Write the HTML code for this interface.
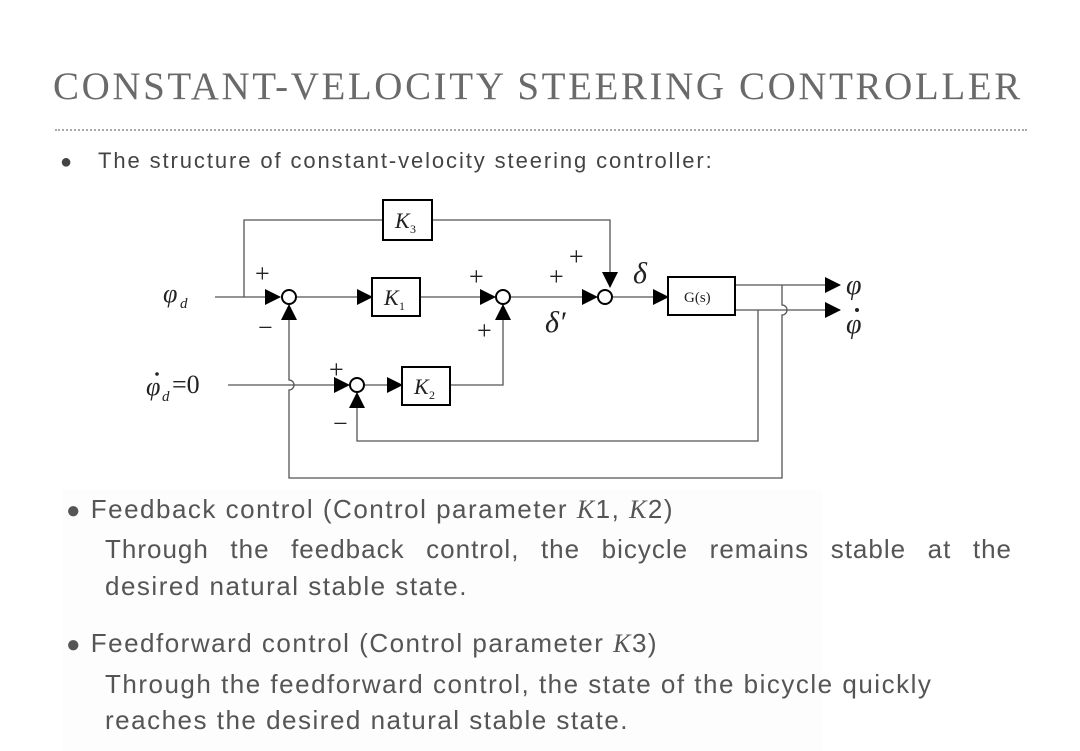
<!DOCTYPE html>
<html><head><meta charset="utf-8"><style>
body{margin:0;width:1080px;height:751px;background:#fff;overflow:hidden;position:relative;font-family:"Liberation Sans",sans-serif}
.t{position:absolute;white-space:nowrap}
</style></head><body>
<div style="position:absolute;left:62px;top:490px;width:760px;height:261px;background:#fdfdfd"></div>
<div class="t" style="left:53px;top:64px;font-family:'Liberation Serif',serif;font-size:39px;color:#6a6a6a;letter-spacing:2.6px">CONSTANT-VELOCITY STEERING CONTROLLER</div>
<div style="position:absolute;left:55px;top:129px;width:972px;border-top:2px dotted #aaa"></div>
<div class="t" style="left:60px;top:148px;font-size:22px;color:#444;letter-spacing:1.9px"><span style="font-size:20px">●</span>&nbsp;&nbsp;&nbsp;The structure of constant-velocity steering controller:</div>
<svg style="position:absolute;left:0;top:0" width="1080" height="751">
<defs><marker id="b" markerWidth="16" markerHeight="16" refX="15" refY="8" orient="auto" markerUnits="userSpaceOnUse"><path d="M0,0 L16,8 L0,16z" fill="#000"/></marker></defs>
<g stroke="#555" stroke-width="1.3" fill="none">
<path d="M215,297 H280" marker-end="url(#b)"/>
<path d="M244,297 V220 H383"/><path d="M432,220 H610 V287" marker-end="url(#b)"/>
<path d="M297,297 H372" marker-end="url(#b)"/>
<path d="M420,297 H495" marker-end="url(#b)"/>
<path d="M511,297 H597" marker-end="url(#b)"/>
<path d="M613,297 H668" marker-end="url(#b)"/>
<path d="M735,285 H840" marker-end="url(#b)"/>
<path d="M735,310 H840" marker-end="url(#b)"/>
<path d="M782,285 V305 a5,5 0 0 1 0,10 V478 H289 V390 a5,5 0 0 0 0,-10 V305" marker-end="url(#b)"/>
<path d="M758,310 V441 H357 V393" marker-end="url(#b)"/>
<path d="M228,385 H349" marker-end="url(#b)"/>
<path d="M365,385 H402" marker-end="url(#b)"/>
<path d="M450,385 H503 V305" marker-end="url(#b)"/>
</g>
<g stroke="#000" stroke-width="2" fill="#fff">
<circle cx="289" cy="297" r="7"/><circle cx="503" cy="297" r="7"/><circle cx="605" cy="297" r="7"/><circle cx="357" cy="385" r="7"/>
<rect x="383" y="200" width="49" height="40"/><rect x="372" y="278" width="48" height="38"/><rect x="402" y="367" width="48" height="38"/><rect x="668" y="277" width="67" height="38"/>
</g>
<g font-family="Liberation Serif,serif" fill="#222">
<text x="395" y="228" font-size="22" font-style="italic">K</text><text x="410" y="233" font-size="12">3</text>
<text x="384" y="305" font-size="22" font-style="italic">K</text><text x="399" y="310" font-size="12">1</text>
<text x="414" y="394" font-size="22" font-style="italic">K</text><text x="429" y="399" font-size="12">2</text>
<text x="684" y="302" font-size="15">G(s)</text>
<g font-size="26"><text x="255" y="282">+</text><text x="258" y="336">−</text><text x="469" y="285">+</text><text x="477" y="339">+</text><text x="549" y="285">+</text><text x="569" y="265">+</text><text x="329" y="378">+</text><text x="333" y="432">−</text></g>
<text x="163" y="302" font-size="26" font-style="italic">φ</text><text x="180" y="308" font-size="15" font-style="italic">d</text>
<text x="146" y="395" font-size="26" font-style="italic">φ</text><circle cx="157" cy="374" r="1.8"/><text x="162" y="401" font-size="15" font-style="italic">d</text><text x="172" y="393" font-size="26">=0</text>
<text x="633" y="283" font-size="30" font-style="italic">δ</text>
<text x="545" y="332" font-size="30" font-style="italic">δ′</text>
<text x="846" y="294" font-size="28" font-style="italic">φ</text>
<text x="846" y="333" font-size="28" font-style="italic">φ</text><circle cx="857" cy="310" r="2"/>
</g>
</svg>
<div style="position:absolute;left:0;top:0;color:#555;font-size:26px;letter-spacing:1.5px">
<div class="t" style="left:66px;top:494px"><span style="font-size:24px">●</span> Feedback control (Control parameter <i style="font-family:'Liberation Serif',serif">K</i>1, <i style="font-family:'Liberation Serif',serif">K</i>2)</div>
<div class="t" style="left:105px;top:534px;width:907px;text-align:justify;text-align-last:justify;white-space:normal;letter-spacing:1px">Through the feedback control, the bicycle remains stable at the</div>
<div class="t" style="left:105px;top:571px">desired natural stable state.</div>
<div class="t" style="left:66px;top:628px"><span style="font-size:24px">●</span> Feedforward control (Control parameter <i style="font-family:'Liberation Serif',serif">K</i>3)</div>
<div class="t" style="left:105px;top:669px">Through the feedforward control, the state of the bicycle quickly</div>
<div class="t" style="left:105px;top:705px">reaches the desired natural stable state.</div>
</div>
</body></html>
